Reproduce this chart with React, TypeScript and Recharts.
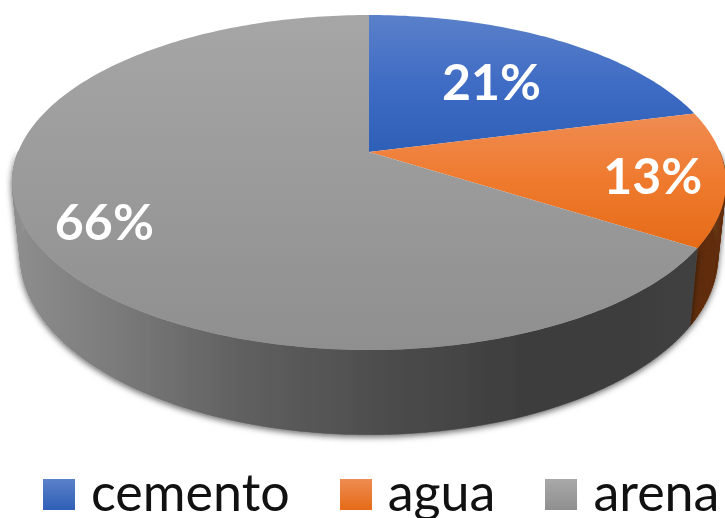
import React from 'react';
import { PieChart, Pie, Legend } from 'recharts';

const categories = ['cemento', 'agua', 'arena'];
const shares = [21, 13, 66];

const topFills = ['url(#topBlue)', 'url(#topOrange)', 'url(#topGrey)'];
const wallFills = ['#3a5a9a', '#602e0a', 'url(#wallGrey)'];
const legendFills = [
  'linear-gradient(#5a80c9, #2f5fb7)',
  'linear-gradient(#ef8c52, #e56b17)',
  'linear-gradient(#a9a9a9, #8f8f8f)',
];
// how far out each label sits, as a share of the radius
const labelReach = [0.62, 0.8, 0.8];

const topData = categories.map((name, i) => ({ name, value: shares[i], fill: topFills[i] }));
const wallData = categories.map((name, i) => ({ name, value: shares[i], fill: wallFills[i] }));

const FONT = 'Lato, sans-serif';
const TILT = 0.4613;
const PERSPECTIVE = -0.182;

// pie angle (degrees, ccw from east) and reach -> point on the tilted disc
const project = (cx: number, cy: number, r: number, angle: number, reach = 1) => {
  const rad = (angle * Math.PI) / 180;
  const u = Math.cos(rad) * reach;
  const v = -Math.sin(rad) * reach;
  const w = 1 + PERSPECTIVE * v;
  return { x: cx + (r * u) / w, y: cy + (r * TILT * v) / w, v };
};

// same point on the lower rim of the disc
const drop = (p: { x: number; y: number }, cx: number, cy: number) => ({
  x: cx + (p.x - cx) * 0.977,
  y: cy + (p.y - cy) * 1.065 + 72,
});

const arc = (props: any) => {
  const { cx, cy, outerRadius, startAngle, endAngle } = props;
  const steps = Math.max(2, Math.ceil(Math.abs(endAngle - startAngle)));
  return Array.from({ length: steps + 1 }, (_, i) =>
    project(cx, cy, outerRadius, startAngle + ((endAngle - startAngle) * i) / steps),
  );
};

const TopFace = (props: any) => {
  const pts = arc(props);
  const d = `M${props.cx},${props.cy}` + pts.map((p) => `L${p.x},${p.y}`).join('') + 'Z';
  return <path d={d} fill={props.fill} />;
};

const WallFace = (props: any) => {
  const { cx, cy } = props;
  const pts = arc(props);
  let d = '';
  for (let i = 0; i < pts.length - 1; i++) {
    if (pts[i].v < 0 && pts[i + 1].v < 0) continue; // back of the wall, hidden by the top
    const a = drop(pts[i], cx, cy);
    const b = drop(pts[i + 1], cx, cy);
    d += `M${pts[i].x},${pts[i].y}L${pts[i + 1].x},${pts[i + 1].y}L${b.x},${b.y}L${a.x},${a.y}Z`;
  }
  return <path d={d} fill={props.fill} stroke={props.fill} strokeWidth={0.5} filter="url(#wallShadow)" />;
};

const renderLabel = (props: any) => {
  const { cx, cy, outerRadius, midAngle, index, value } = props;
  const p = project(cx, cy, outerRadius, midAngle, labelReach[index]);
  return (
    <text
      x={p.x}
      y={p.y + 2}
      textAnchor="middle"
      dominantBaseline="central"
      fill="#fff"
      fontFamily={FONT}
      fontWeight={700}
      fontSize={50}
    >
      {value}%
    </text>
  );
};

const renderLegend = () => (
  <div
    style={{
      display: 'flex',
      alignItems: 'flex-start',
      paddingLeft: 43,
      fontFamily: FONT,
      fontSize: 52,
      lineHeight: '60px',
      color: '#111',
    }}
  >
    {categories.map((name, i) => (
      <div key={name} style={{ display: 'flex', alignItems: 'flex-start', marginRight: 50 }}>
        <div style={{ width: 32, height: 31, marginTop: 18, background: legendFills[i], marginRight: 16 }} />
        <span>{name}</span>
      </div>
    ))}
  </div>
);

export default function App() {
  return (
    <div style={{ position: 'absolute', left: 0, top: 0, width: 725, height: 518, overflow: 'hidden', background: '#fff' }}>
      <PieChart width={725} height={518} margin={{ top: 0, right: 0, bottom: 0, left: 0 }}>
        <defs>
          <linearGradient id="topBlue" x1="0" y1="0" x2="0" y2="1">
            <stop offset="0" stopColor="#5a80c9" />
            <stop offset="0.5" stopColor="#3f6cc4" />
            <stop offset="1" stopColor="#2e5fb7" />
          </linearGradient>
          <linearGradient id="topOrange" x1="0" y1="0" x2="0" y2="1">
            <stop offset="0" stopColor="#ef8c52" />
            <stop offset="0.5" stopColor="#ef7a2e" />
            <stop offset="1" stopColor="#e56b17" />
          </linearGradient>
          <linearGradient id="topGrey" x1="0" y1="0" x2="0" y2="1">
            <stop offset="0" stopColor="#a6a6a6" />
            <stop offset="1" stopColor="#8f8f8f" />
          </linearGradient>
          <linearGradient id="wallGrey" gradientUnits="userSpaceOnUse" x1="12" y1="0" x2="725" y2="0">
            <stop offset="0" stopColor="#8e8e8e" />
            <stop offset="0.15" stopColor="#7a7a7a" />
            <stop offset="0.33" stopColor="#5f5f5f" />
            <stop offset="0.55" stopColor="#4a4a4a" />
            <stop offset="0.74" stopColor="#3c3c3c" />
            <stop offset="1" stopColor="#404040" />
          </linearGradient>
          <filter id="wallShadow" x="-10%" y="-10%" width="120%" height="125%">
            <feDropShadow dx={0} dy={2} stdDeviation={3} floodColor="#000" floodOpacity={0.6} />
          </filter>
        </defs>
        <Pie
          data={wallData}
          dataKey="value"
          nameKey="name"
          cx={369}
          cy={152}
          outerRadius={351}
          startAngle={90}
          endAngle={-270}
          stroke="none"
          legendType="none"
          label={false}
          labelLine={false}
          shape={WallFace}
          isAnimationActive={false}
        />
        <Pie
          data={topData}
          dataKey="value"
          nameKey="name"
          cx={369}
          cy={152}
          outerRadius={351}
          startAngle={90}
          endAngle={-270}
          stroke="none"
          label={renderLabel}
          labelLine={false}
          shape={TopFace}
          isAnimationActive={false}
        />
        <Legend content={renderLegend} wrapperStyle={{ left: 0, top: 461, width: 725 }} />
      </PieChart>
    </div>
  );
}
